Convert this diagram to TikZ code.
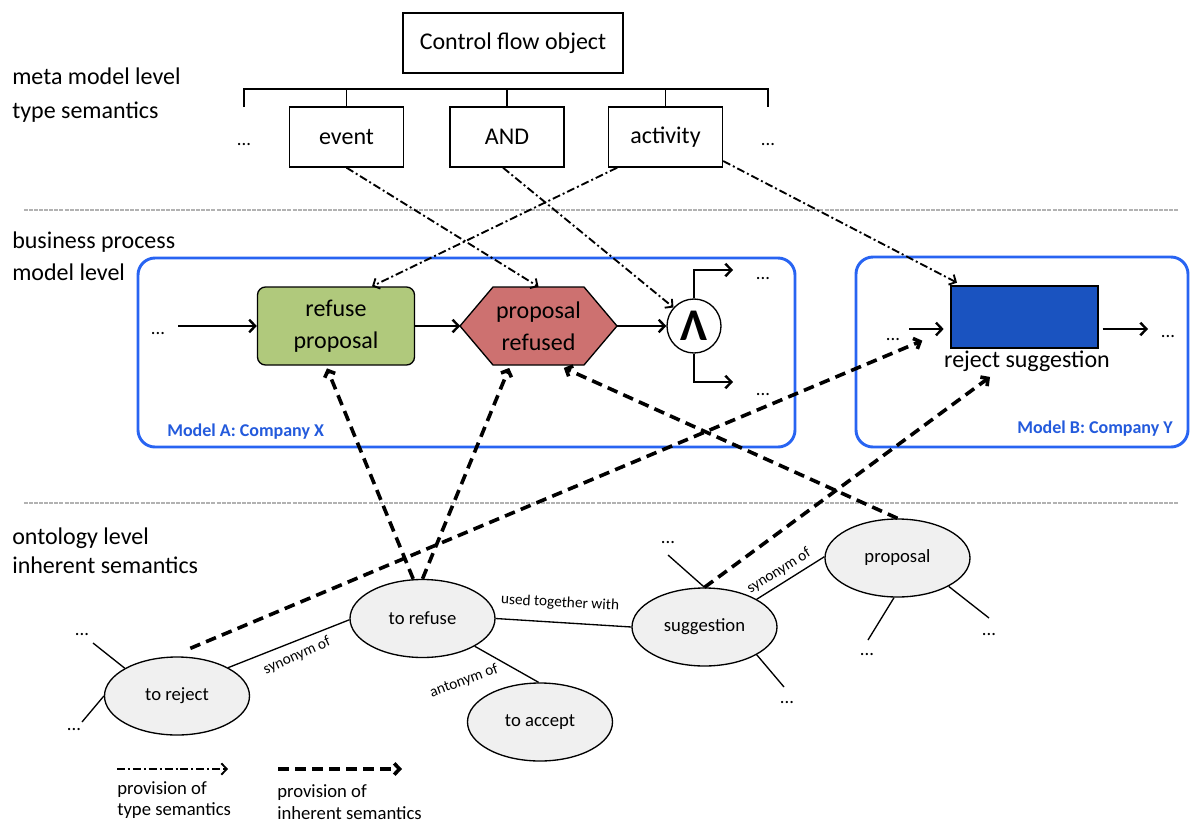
\documentclass[tikz,border=0pt]{standalone}
\usepackage{fontspec}
\setmainfont{Carlito}
\usetikzlibrary{arrows.meta,calc,shapes.geometric}
\definecolor{frameblue}{HTML}{2864F2}
\definecolor{labelblue}{HTML}{235ADC}
\definecolor{actfill}{HTML}{B0C97C}
\definecolor{evtfill}{HTML}{CD7170}
\definecolor{taskblue}{HTML}{1A53C0}
\definecolor{ontofill}{HTML}{F0F0F0}
\definecolor{sepgray}{HTML}{B2B2B2}
\begin{document}
\begin{tikzpicture}[x=0.75pt,y=-0.75pt,
  lvl/.style={anchor=west,align=left,inner sep=0pt},
  typebox/.style={draw,line width=1pt,minimum width=85.5pt,minimum height=45pt,inner sep=0pt,font=\fontsize{18}{22}\selectfont},
  dots/.style={inner sep=0pt,anchor=base,font=\fontsize{14}{16}\selectfont},
  flow/.style={line width=1.8pt,-{Straight Barb[length=4.5pt,width=9.5pt]}},
  typesem/.style={line width=1.4pt,dash pattern=on 6pt off 2.2pt on 1.5pt off 2.2pt,-{Straight Barb[length=4pt,width=8.5pt]}},
  inhsem/.style={line width=2.7pt,dash pattern=on 8pt off 4.8pt,-{Straight Barb[length=4pt,width=8.5pt]}},
  onto/.style={ellipse,draw,line width=1pt,fill=ontofill,minimum width=108.75pt,minimum height=58.5pt,inner sep=0pt,font=\fontsize{14}{16}\selectfont},
  rel/.style={line width=1pt},
  rellabel/.style={inner sep=0pt,font=\fontsize{11.5}{13}\selectfont},
  modelframe/.style={draw=frameblue,line width=2.2pt,rounded corners=12.75pt,inner sep=0pt},
  modellabel/.style={text=labelblue,inner sep=0pt,font=\bfseries\fontsize{13.5}{16}\selectfont},
  sep/.style={draw=sepgray,line width=1.5pt,dash pattern=on 3pt off 0.8pt},
  bigtext/.style={inner sep=0pt,align=center,font=\fontsize{18}{24}\selectfont}
]
\useasboundingbox (0,0) rectangle (1190,822);

% level captions
\node[lvl,font=\fontsize{18}{25.5}\selectfont] (lv1) at (12,95) {meta model level\\type semantics};
\node[lvl,font=\fontsize{18}{24}\selectfont] (lv2) at (12,256) {business process\\model level};
\node[lvl,font=\fontsize{18}{22}\selectfont] (lv3) at (12,551) {ontology level\\inherent semantics};

% level separators
\coordinate (sa0) at (24,210); \coordinate (sa1) at (1178,210);
\coordinate (sb0) at (24,503); \coordinate (sb1) at (1178,503);
\draw[sep] (sa0) -- (sa1);
\draw[sep] (sb0) -- (sb1);

% meta model: type hierarchy
\node[typebox,minimum width=165pt] (cfo) at (513,43) {Control flow object};
\node[typebox] (ev) at (346.5,137) {event};
\node[typebox] (andb) at (507,137) {AND};
\node[typebox] (act) at (665.5,137) {activity};
\coordinate (tl) at (244,89); \coordinate (tre) at (768,89);
\coordinate (tlb) at (244,107); \coordinate (treb) at (768,107);
\draw[line width=1pt] (tlb) -- (tl) -- (tre) -- (treb);
\foreach \n in {ev,andb,act} \draw[line width=1pt] (\n.north) -- (\n.north |- tl);
\node[dots] (dm1) at (244,145) {...};
\node[dots] (dm2) at (768,145) {...};

% business process models
\node[modelframe,minimum width=492.75pt,minimum height=141.75pt] (ma) at (466.5,352.5) {};
\node[modelframe,minimum width=249pt,minimum height=142.5pt] (mb) at (1022,352) {};
\node[modellabel,anchor=west] (mal) at (167,432) {Model A: Company X};
\node[modellabel,anchor=east] (mbl) at (1173,429) {Model B: Company Y};

\node[draw,line width=1pt,fill=actfill,rounded corners=6pt,minimum width=117.75pt,minimum height=58.5pt,bigtext] (rp) at (336,326) {refuse\\proposal};
\draw[line width=1pt,fill=evtfill] (460,326) -- (493,287) -- (584,287) -- (617,326) -- (584,365) -- (493,365) -- cycle;
\node[minimum width=117pt,minimum height=58.5pt,bigtext] (pr) at (538.5,326) {proposal\\refused};
\node[circle,draw,line width=1pt,fill=white,minimum size=40.5pt,inner sep=0pt,font=\bfseries\fontsize{34}{34}\selectfont] (ac) at (694,326) {Λ};

\node[dots] (fa) at (158,334) {...};
\coordinate (fa0) at (178,326);
\draw[flow] (fa0) -- (rp.west);
\draw[flow] (rp.east) -- (pr.west);
\draw[flow] (pr.east) -- (ac.west);
\coordinate (u1) at (733,270); \coordinate (u2) at (733,382);
\draw[flow] (ac.north) |- (u1);
\draw[flow] (ac.south) |- (u2);
\node[dots] (du1) at (763,279) {...};
\node[dots] (du2) at (763,395) {...};

\node[draw,line width=1pt,fill=taskblue,minimum width=110.25pt,minimum height=46.5pt] (rb) at (1024.5,317) {};
\node[inner sep=0pt,font=\fontsize{18}{22}\selectfont] (rsl) at (1027,361) {reject suggestion};
\coordinate (bi) at (909,329); \coordinate (bo) at (1148,329);
\draw[flow,shorten >=5pt] (bi) -- (rb.west |- bi);
\draw[flow,shorten <=3pt] (rb.east |- bo) -- (bo);
\node[dots] (db1) at (893,340) {...};
\node[dots] (db2) at (1168,337) {...};

% ontology
\node[onto] (tj) at (177,696) {to reject};
\node[onto] (tr) at (422.5,618.5) {to refuse};
\node[onto] (ta) at (540,722) {to accept};
\node[onto] (sg) at (704.5,627) {suggestion};
\node[onto] (pp) at (897.5,558) {proposal};

\draw[rel] (tj.29) -- (tr.181);
\draw[rel] (tr.-28) -- (ta.92);
\draw[rel] (tr.east) -- (sg.west);
\draw[rel] (sg.28) -- (pp.179);
\node[rellabel,rotate=24] (l1) at (297,656) {synonym of};
\node[rellabel,rotate=20] (l2) at (464,681) {antonym of};
\node[rellabel,rotate=-3] (l3) at (560,603) {used together with};
\node[rellabel,rotate=32] (l4) at (779,571) {synonym of};

\coordinate (s1) at (93,643); \coordinate (s2) at (82,722);
\coordinate (s3) at (668,555); \coordinate (s4) at (784,687);
\coordinate (s5) at (868,640); \coordinate (s6) at (989,618);
\draw[rel] (tj.152) -- (s1);
\draw[rel] (tj.west) -- (s2);
\draw[rel] (sg.north) -- (s3);
\draw[rel] (sg.-28) -- (s4);
\draw[rel] (pp.-95) -- (s5);
\draw[rel] (pp.-29) -- (s6);
\node[dots] (do1) at (82,635) {...};
\node[dots] (do2) at (74,730) {...};
\node[dots] (do3) at (668,543) {...};
\node[dots] (do4) at (787,703) {...};
\node[dots] (do5) at (867,655) {...};
\node[dots] (do6) at (989,635) {...};

% provision of type semantics
\draw[typesem] (ev.south) -- (pr.north);
\draw[typesem] ([xshift=-3pt]andb.south) -- (ac.138);
\draw[typesem] ([xshift=7pt]act.south west) -- ([xshift=27pt]rp.north);
\draw[typesem] ([yshift=5pt]act.south east) -- ([xshift=5pt,yshift=2pt]rb.north west);

% provision of inherent semantics
\draw[inhsem] ([xshift=-7pt]tr.north) -- ([xshift=-6.75pt,yshift=-2pt]rp.south);
\draw[inhsem] (tr.north) -- ([xshift=-22pt,yshift=-2pt]pr.south);
\draw[inhsem] ([xshift=10pt,yshift=6pt]tj.north) -- ([xshift=-21pt,yshift=6pt]rb.south west);
\draw[inhsem] (sg.north) -- ([xshift=-27.75pt,yshift=-4pt]rsl.south);
\draw[inhsem] (pp.north) -- ([xshift=19pt,yshift=-2pt]pr.south);

% legend
\coordinate (la0) at (117,769); \coordinate (la1) at (228,769);
\coordinate (lb0) at (278,769); \coordinate (lb1) at (402,769);
\draw[typesem] (la0) -- (la1);
\draw[inhsem] (lb0) -- (lb1);
\node[lvl,font=\fontsize{14}{16}\selectfont] (lta) at (117,800) {provision of\\type semantics};
\node[lvl,font=\fontsize{14}{16}\selectfont] (ltb) at (277,802) {provision of\\inherent semantics};
\end{tikzpicture}
\end{document}
